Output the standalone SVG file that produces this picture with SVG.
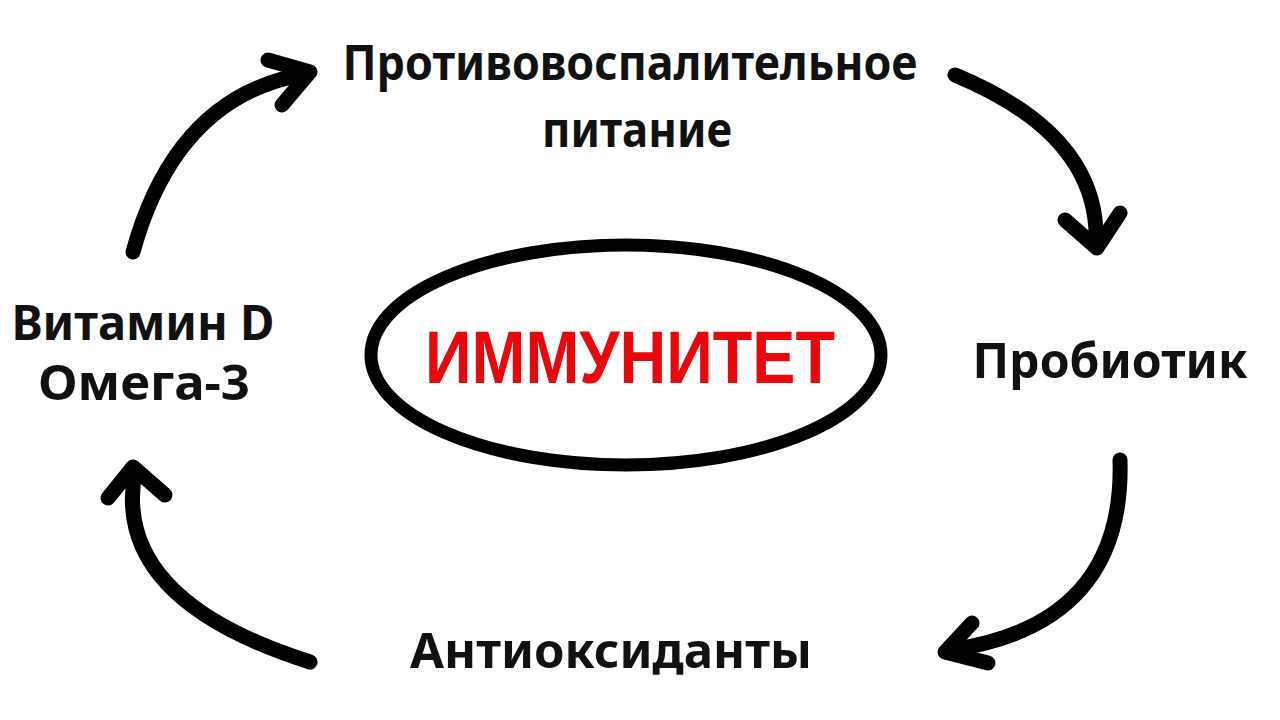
<svg xmlns="http://www.w3.org/2000/svg" width="1280" height="720" viewBox="0 0 1280 720">
<style>
.lbl{font-family:"Noto Sans","Liberation Sans",sans-serif;font-weight:bold;fill:#111;font-size:48px;}
.arr{fill:none;stroke:#000;stroke-width:15;stroke-linecap:round;stroke-linejoin:round;}
</style>
<rect width="1280" height="720" fill="#fff"/>
<g id="center">
<ellipse cx="626" cy="355" rx="255" ry="110" fill="#fff" stroke="#000" stroke-width="13"/>
<text x="630" y="383" text-anchor="middle" font-family="Liberation Sans,Arial,sans-serif" font-weight="bold" font-size="74" fill="#e8070a" textLength="410" lengthAdjust="spacingAndGlyphs">ИММУНИТЕТ</text>
</g>
<g id="top">
<text class="lbl" x="630" y="80" text-anchor="middle" textLength="575" lengthAdjust="spacingAndGlyphs">Противовоспалительное</text>
<text class="lbl" x="637" y="147" text-anchor="middle" textLength="190" lengthAdjust="spacingAndGlyphs">питание</text>
</g>
<g id="right">
<text class="lbl" x="1110" y="378" text-anchor="middle" textLength="275" lengthAdjust="spacingAndGlyphs">Пробиотик</text>
</g>
<g id="bottom">
<text class="lbl" x="611" y="668" text-anchor="middle" textLength="402" lengthAdjust="spacingAndGlyphs">Антиоксиданты</text>
</g>
<g id="left">
<text class="lbl" x="143" y="340" text-anchor="middle" textLength="263" lengthAdjust="spacingAndGlyphs">Витамин D</text>
<text class="lbl" x="144" y="400" text-anchor="middle" textLength="212" lengthAdjust="spacingAndGlyphs">Омега-3</text>
</g>
<g id="connectors">
<path class="arr" d="M133,252 Q176,96 305,74"/>
<path class="arr" d="M268,60 L310,72 L282,105"/>
<path class="arr" d="M955,75 Q1100,135 1096,243"/>
<path class="arr" d="M1065,220 L1097,248 L1120,213"/>
<path class="arr" d="M1120,460 Q1125,625 950,650"/>
<path class="arr" d="M972,623 L945,652 L988,663"/>
<path class="arr" d="M310,662 Q111,599 135,472"/>
<path class="arr" d="M108,498 L133,467 L165,495"/>
</g>
</svg>
